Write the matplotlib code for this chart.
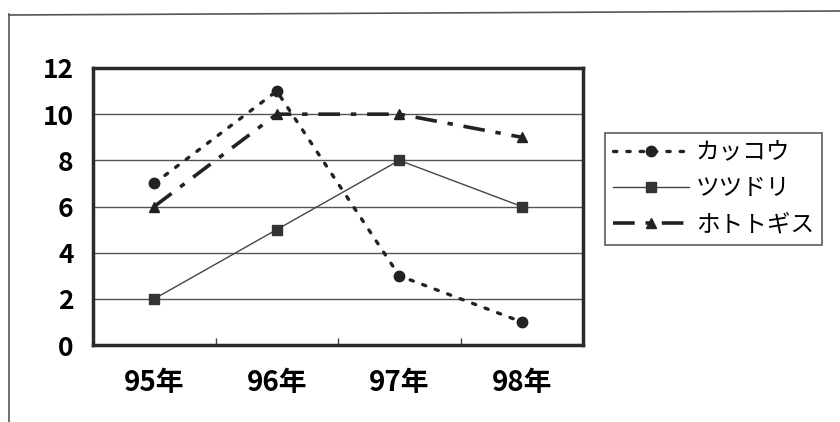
import matplotlib.pyplot as plt
from matplotlib.lines import Line2D

plt.rcParams['font.family'] = ['Noto Sans CJK JP', 'DejaVu Sans']

years = ['95年', '96年', '97年', '98年']
kakkou = [7, 11, 3, 1]
tsutsudori = [2, 5, 8, 6]
hototogisu = [6, 10, 10, 9]

fig = plt.figure(figsize=(8.4, 4.22), dpi=100)

# page frame behind the chart
fig.add_artist(Line2D([9 / 840, 9 / 840], [0, 1 - 14 / 422], color='#555555', lw=1.2))
fig.add_artist(Line2D([9 / 840, 1], [1 - 15 / 422, 1 - 11 / 422], color='#555555', lw=1.2))

ax = fig.add_axes([93 / 840, 1 - 345 / 422, 490 / 840, 277 / 422])
x = range(len(years))

ax.plot(x, kakkou, color='#222222', lw=2.4, linestyle=(0, (1, 3)), marker='o',
        markersize=7.5, dash_capstyle='round', label='カッコウ')
ax.plot(x, tsutsudori, color='#444444', lw=1, linestyle='-', marker='s',
        markersize=7.5, markerfacecolor='#333333', markeredgecolor='#333333', label='ツツドリ')
ax.plot(x, hototogisu, color='#222222', lw=2.6, linestyle=(0, (6, 3, 1.5, 3)), marker='^',
        markersize=7.5, label='ホトトギス')

ax.set_xlim(-0.5, 3.5)
ax.set_ylim(0, 12)
ax.set_yticks(range(0, 13, 2))
ax.set_xticks(list(x))
ax.set_xticklabels(years, fontsize=20, fontweight='bold')
for t in ax.get_yticklabels():
    t.set_fontweight('bold')
ax.tick_params(axis='y', length=0, pad=14, labelsize=19)
ax.tick_params(axis='x', length=0, pad=17)
ax.set_xticks([0.5, 1.5, 2.5], minor=True)
ax.tick_params(axis='x', which='minor', direction='in', length=5, width=1, color='#444444')
ax.grid(axis='y', color='#555555', lw=1)
ax.set_axisbelow(True)
for s in ax.spines.values():
    s.set_linewidth(2.5)
    s.set_color('#2a2a2a')

leg = fig.legend(loc='upper left', bbox_to_anchor=(605 / 840, 1 - 133 / 422),
                 prop={'size': 17}, handlelength=3.2, frameon=True, fancybox=False,
                 borderpad=0.35, labelspacing=0.55, handletextpad=0.3, borderaxespad=0)
leg.get_frame().set_edgecolor('#333333')
leg.get_frame().set_linewidth(1.2)

fig.savefig('out.png', dpi=100)
